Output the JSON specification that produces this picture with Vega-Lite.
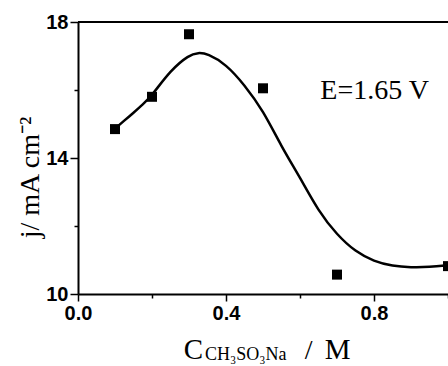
{
  "$schema": "https://vega.github.io/schema/vega-lite/v6.json",
  "width": 370,
  "height": 272,
  "autosize": {"type": "none"},
  "padding": {"left": 78, "top": 22, "right": 0, "bottom": 72},
  "background": "white",
  "config": {
    "view": {"stroke": null},
    "axis": {
      "grid": false,
      "domainColor": "black",
      "domainWidth": 2,
      "tickColor": "black",
      "tickWidth": 1.5,
      "labelFont": "Liberation Sans",
      "labelFontWeight": "bold",
      "labelFontSize": 20,
      "labelColor": "black",
      "titleFont": "Liberation Serif",
      "titleFontWeight": "normal",
      "titleFontSize": 28,
      "titleColor": "black"
    }
  },
  "datasets": {
    "pts": [
      {"c": 0.1, "j": 14.85},
      {"c": 0.2, "j": 15.8},
      {"c": 0.3, "j": 17.64},
      {"c": 0.5, "j": 16.05},
      {"c": 0.7, "j": 10.57},
      {"c": 1.0, "j": 10.82}
    ],
    "fit": [
      {"c": 0.1, "j": 14.86},
      {"c": 0.125, "j": 15.1},
      {"c": 0.15, "j": 15.33},
      {"c": 0.175, "j": 15.57},
      {"c": 0.2, "j": 15.84},
      {"c": 0.25, "j": 16.58},
      {"c": 0.3, "j": 17.03},
      {"c": 0.325, "j": 17.1},
      {"c": 0.35, "j": 17.07},
      {"c": 0.4, "j": 16.76},
      {"c": 0.45, "j": 16.15},
      {"c": 0.5, "j": 15.4},
      {"c": 0.55, "j": 14.33},
      {"c": 0.6, "j": 13.43},
      {"c": 0.65, "j": 12.43},
      {"c": 0.7, "j": 11.74},
      {"c": 0.75, "j": 11.24},
      {"c": 0.8, "j": 10.96},
      {"c": 0.85, "j": 10.82},
      {"c": 0.9, "j": 10.78},
      {"c": 0.95, "j": 10.79},
      {"c": 1.0, "j": 10.85}
    ],
    "one": [{}]
  },
  "layer": [
    {
      "data": {"name": "fit"},
      "mark": {"type": "line", "interpolate": "basis", "color": "black", "strokeWidth": 2.5},
      "encoding": {
        "x": {
          "field": "c", "type": "quantitative",
          "scale": {"domain": [0, 1], "nice": false, "zero": false},
          "axis": {
            "title": null,
            "values": [0, 0.1, 0.2, 0.3, 0.4, 0.5, 0.6, 0.7, 0.8, 0.9, 1.0],
            "labelExpr": "round(datum.value*10) % 4 == 0 ? format(datum.value, '.1f') : ''",
            "tickSize": {"condition": {"test": "round(datum.value*10) % 4 == 0", "value": 7}, "value": 4},
            "labelPadding": 2,
            "labelOverlap": false,
            "labelFlush": false
          }
        },
        "y": {
          "field": "j", "type": "quantitative",
          "scale": {"domain": [10, 18], "nice": false, "zero": false},
          "axis": {
            "title": "j/ mA cm⁻²",
            "titleAngle": 270,
            "titleX": -40,
            "titleY": 155,
            "titleAlign": "center",
            "titleBaseline": "alphabetic",
            "values": [10, 11, 12, 13, 14, 15, 16, 17, 18],
            "labelExpr": "datum.value % 4 == 2 ? datum.label : ''",
            "tickSize": {"condition": {"test": "datum.value % 4 == 2", "value": 8}, "value": 4},
            "labelPadding": 2,
            "labelOverlap": false,
            "labelFlush": false
          }
        }
      }
    },
    {
      "data": {"name": "pts"},
      "mark": {"type": "square", "size": 100, "color": "black", "opacity": 1},
      "encoding": {
        "x": {"field": "c", "type": "quantitative"},
        "y": {"field": "j", "type": "quantitative"}
      }
    },
    {
      "data": {"name": "one"},
      "mark": {"type": "rule", "color": "black", "strokeWidth": 2},
      "encoding": {"y": {"datum": 18, "type": "quantitative"}}
    },
    {
      "data": {"name": "one"},
      "mark": {"type": "text", "text": "E=1.65 V", "font": "Liberation Serif", "fontSize": 28, "align": "left", "baseline": "alphabetic", "color": "black"},
      "encoding": {"x": {"datum": 0.655, "type": "quantitative"}, "y": {"datum": 15.74, "type": "quantitative"}}
    },
    {
      "data": {"name": "one"},
      "mark": {"type": "text", "text": "C", "font": "Liberation Serif", "fontSize": 29, "align": "left", "baseline": "alphabetic", "color": "black", "dy": 65},
      "encoding": {"x": {"datum": 0.286, "type": "quantitative"}, "y": {"datum": 10, "type": "quantitative"}}
    },
    {
      "data": {"name": "one"},
      "mark": {"type": "text", "text": "CH₃SO₃Na", "font": "Liberation Serif", "fontSize": 18, "align": "left", "baseline": "alphabetic", "color": "black", "dy": 66},
      "encoding": {"x": {"datum": 0.343, "type": "quantitative"}, "y": {"datum": 10, "type": "quantitative"}}
    },
    {
      "data": {"name": "one"},
      "mark": {"type": "text", "text": "/", "font": "Liberation Serif", "fontSize": 28, "align": "left", "baseline": "alphabetic", "color": "black", "dy": 65},
      "encoding": {"x": {"datum": 0.613, "type": "quantitative"}, "y": {"datum": 10, "type": "quantitative"}}
    },
    {
      "data": {"name": "one"},
      "mark": {"type": "text", "text": "M", "font": "Liberation Serif", "fontSize": 29, "align": "left", "baseline": "alphabetic", "color": "black", "dy": 65},
      "encoding": {"x": {"datum": 0.667, "type": "quantitative"}, "y": {"datum": 10, "type": "quantitative"}}
    }
  ]
}
